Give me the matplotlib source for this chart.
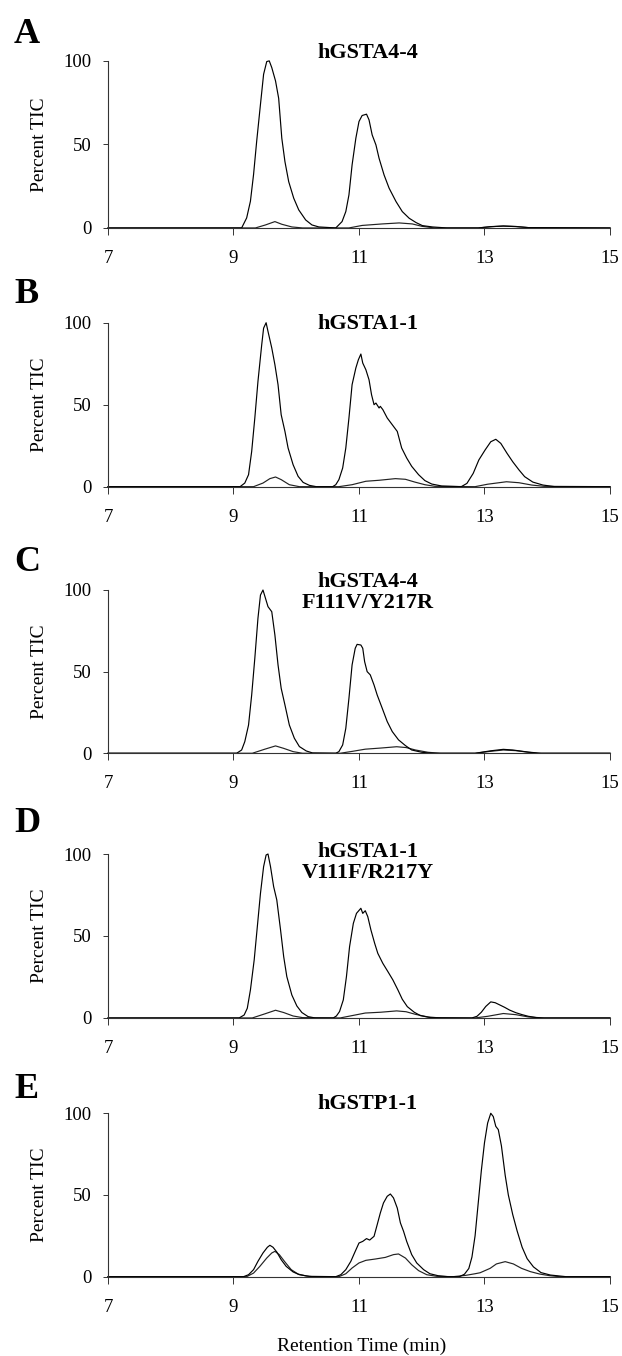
import matplotlib
matplotlib.use("Agg")
from matplotlib import pyplot as plt

plt.rcParams['font.family'] = ['Liberation Serif', 'DejaVu Serif']

letters = ["A", "B", "C", "D", "E"]
titles = [["hGSTA4-4"], ["hGSTA1-1"], ["hGSTA4-4", "F111V/Y217R"],
          ["hGSTA1-1", "V111F/R217Y"], ["hGSTP1-1"]]
xticks = [7, 9, 11, 13, 15]
yticks = [0, 50, 100]

# retention time (min) / percent TIC
a_main_t = [7, 9.13, 9.21, 9.27, 9.32, 9.37, 9.43, 9.48, 9.53, 9.57, 9.61, 9.67, 9.72, 9.77, 9.82,
            9.88, 9.96, 10.04, 10.15, 10.25, 10.36, 10.63, 10.73, 10.79, 10.84, 10.89, 10.95,
            11.0, 11.05, 11.12, 11.16, 11.21, 11.27, 11.32, 11.40, 11.48, 11.59, 11.69, 11.80,
            11.91, 12.01, 12.17, 12.4, 12.9, 13.1, 13.3, 13.5, 13.7, 15]
a_main_v = [0, 0, 6, 16, 32, 52, 74, 92, 99.6, 100, 96, 88, 77.6, 53.7, 39.7,
            27.7, 17.8, 10.8, 4.8, 1.8, 0.6, 0, 3.8, 9.8, 19.8, 37.7, 53.7,
            63.7, 67.3, 68.1, 64.7, 55.7, 49.7, 41.7, 31.7, 23.8, 15.8, 9.8, 5.8,
            3.2, 1.4, 0.6, 0, 0, 0.8, 1.1, 0.8, 0.2, 0]
a_minor_t = [7, 9.35, 9.51, 9.66, 9.77, 9.93, 10.1, 10.84, 11.05, 11.37, 11.64, 11.85, 12.0,
             12.2, 12.9, 13.1, 13.3, 13.5, 13.7, 15]
a_minor_v = [0, 0, 1.8, 3.8, 2.2, 0.6, 0, 0, 1.5, 2.4, 3.0, 2.4, 1.0,
             0, 0, 0.7, 1.2, 0.9, 0.2, 0]

b_main_t = [7, 9.105, 9.18, 9.24, 9.29, 9.34, 9.39, 9.45, 9.48, 9.52, 9.55, 9.61, 9.66, 9.71,
            9.76, 9.82, 9.87, 9.95, 10.03, 10.11, 10.21, 10.32, 10.58, 10.63, 10.68, 10.74,
            10.79, 10.84, 10.89, 10.95, 10.99, 11.03, 11.06, 11.11, 11.16, 11.20, 11.24, 11.27,
            11.32, 11.34, 11.38, 11.45, 11.53, 11.61, 11.68, 11.76, 11.84, 11.95, 12.05, 12.16,
            12.32, 12.63, 12.72, 12.82, 12.91, 13.01, 13.10, 13.18, 13.26, 13.36, 13.45, 13.55,
            13.64, 13.77, 13.93, 14.12, 15]
b_main_v = [0, 0, 2.2, 7.3, 21.5, 41.9, 64.2, 86.6, 96.7, 100, 94.7, 84.6, 74.4, 62.2,
            43.9, 33.7, 23.6, 13.4, 6.3, 2.6, 0.8, 0, 0, 1.2, 4.3, 11.4,
            23.6, 41.9, 62.2, 72.4, 77.4, 80.9, 75.4, 71.3, 65.2, 56.1, 50.0, 51.0,
            48.0, 49.0, 47.0, 41.9, 37.8, 33.7, 23.6, 17.5, 12.4, 7.3, 3.7, 1.6,
            0.4, 0, 2, 8.1, 16.3, 22.4, 27.4, 28.9, 26.4, 20.3, 15.2, 10.2,
            6.1, 2.8, 1.0, 0, 0]
b_minor_t = [7, 9.32, 9.47, 9.58, 9.67, 9.76, 9.89, 10.05, 10.68, 10.89, 11.11, 11.32, 11.58,
             11.74, 11.89, 12.05, 12.21, 12.85, 13.05, 13.35, 13.55, 13.75, 13.95, 15]
b_minor_v = [0, 0, 2.2, 4.9, 5.9, 4.3, 1.2, 0, 0, 1.2, 3.3, 3.9, 4.9,
             4.5, 2.8, 1.2, 0.2, 0, 1.5, 3.0, 2.4, 1.0, 0.2, 0]

c_main_t = [7, 9.05, 9.13, 9.18, 9.24, 9.29, 9.34, 9.39, 9.43, 9.47, 9.51, 9.55, 9.61, 9.66,
            9.71, 9.76, 9.82, 9.89, 9.97, 10.05, 10.16, 10.26, 10.63, 10.68, 10.74, 10.79,
            10.84, 10.89, 10.94, 10.97, 11.03, 11.06, 11.09, 11.13, 11.18, 11.24, 11.29, 11.37,
            11.45, 11.53, 11.63, 11.74, 11.84, 12.0, 12.16, 12.85, 13.1, 13.3, 13.45, 13.7,
            13.9, 15]
c_main_v = [0, 0, 2, 7.1, 17.3, 35.7, 58.2, 82.7, 96.9, 100, 94.9, 89.8, 86.7, 72.4,
            54.1, 39.8, 29.6, 17.3, 9.2, 4.1, 1.4, 0.2, 0, 1, 5.1, 15.3,
            33.7, 54.1, 64.3, 66.7, 66.3, 64.3, 56.1, 50, 48, 41.8, 35.7, 27.6,
            19.4, 13.3, 8.2, 4.7, 2, 0.6, 0, 0, 1.5, 2.4, 2.0, 0.7,
            0, 0]
c_minor_t = [7, 9.3, 9.5, 9.67, 9.8, 9.95, 10.1, 10.7, 10.9, 11.1, 11.35, 11.6, 11.75, 11.9,
             12.1, 12.3, 12.85, 13.1, 13.3, 13.5, 13.7, 13.85, 15]
c_minor_v = [0, 0, 2.5, 4.5, 3.0, 1.0, 0, 0, 1.2, 2.5, 3.2, 4.0, 3.5, 2.0,
             0.6, 0, 0, 1.2, 2.0, 1.6, 0.6, 0, 0]

d_main_t = [7, 9.09, 9.17, 9.22, 9.27, 9.33, 9.38, 9.43, 9.48, 9.52, 9.55, 9.59, 9.64, 9.69,
            9.75, 9.80, 9.85, 9.93, 10.01, 10.09, 10.19, 10.30, 10.59, 10.64, 10.69, 10.75,
            10.80, 10.85, 10.91, 10.96, 11.03, 11.06, 11.10, 11.14, 11.19, 11.25, 11.30, 11.38,
            11.46, 11.54, 11.62, 11.69, 11.77, 11.88, 11.98, 12.14, 12.8, 12.88, 12.95, 13.02,
            13.1, 13.17, 13.24, 13.32, 13.4, 13.5, 13.6, 13.7, 13.82, 13.95, 15]
d_main_v = [0, 0, 1.8, 5.9, 17.1, 35.4, 55.7, 76, 92.3, 99.4, 100, 92.3, 80.1, 72,
            53.7, 37.4, 25.2, 14, 7.3, 3.3, 0.8, 0, 0, 1.2, 3.9, 11,
            25.2, 43.5, 57.7, 63.8, 66.9, 63.8, 65.4, 61.8, 53.7, 45.5, 39.4, 33.3,
            28.3, 23.2, 17.1, 11.4, 6.9, 3.5, 1.4, 0.2, 0, 1, 3.5, 7,
            9.8, 9.3, 8, 6.5, 4.8, 3.2, 2, 1, 0.3, 0, 0]
d_minor_t = [7, 9.3, 9.5, 9.67, 9.8, 9.95, 10.1, 10.7, 10.9, 11.1, 11.35, 11.6, 11.75, 11.9,
             12.1, 12.3, 12.85, 13.05, 13.3, 13.5, 13.7, 13.9, 15]
d_minor_v = [0, 0, 2.5, 4.7, 3.3, 1.2, 0.2, 0, 1.5, 3.0, 3.5, 4.3, 3.8, 2.2,
             0.6, 0, 0, 1.0, 2.7, 2.0, 0.6, 0, 0]

e_main_t = [7, 9.16, 9.24, 9.32, 9.39, 9.47, 9.54, 9.58, 9.63, 9.69, 9.76, 9.84, 9.95, 10.05,
            10.21, 10.63, 10.71, 10.79, 10.87, 10.94, 11.0, 11.06, 11.12, 11.17, 11.24, 11.29,
            11.34, 11.39, 11.45, 11.50, 11.55, 11.61, 11.66, 11.71, 11.76, 11.84, 11.92, 12.03,
            12.13, 12.26, 12.42, 12.6, 12.68, 12.75, 12.8, 12.85, 12.9, 12.95, 13.0, 13.05,
            13.1, 13.14, 13.18, 13.22, 13.27, 13.33, 13.38, 13.45, 13.52, 13.6, 13.68, 13.78,
            13.9, 14.05, 14.3, 15]
e_main_v = [0, 0, 1.2, 4.3, 9.4, 14.5, 18, 19.2, 18, 15.1, 10.4, 6.3, 2.9, 1.2,
            0.2, 0, 1.2, 4.3, 9.4, 15.5, 20.6, 21.6, 23.3, 22.4, 24.7, 31.8,
            39, 45.1, 49.2, 50.6, 48.2, 42, 32.9, 27.8, 21.6, 13.5, 8.4, 4.3,
            1.8, 0.6, 0, 0, 1.5, 5, 12, 25, 45, 65, 82, 94,
            100, 98, 92, 90, 80, 62, 50, 38, 28, 18, 11, 6,
            2.5, 1, 0, 0]
e_minor_t = [7, 9.21, 9.32, 9.42, 9.53, 9.61, 9.66, 9.73, 9.82, 9.92, 10.03, 10.16, 10.26,
             10.68, 10.79, 10.89, 11.0, 11.11, 11.26, 11.42, 11.55, 11.63, 11.74, 11.84, 11.95,
             12.08, 12.24, 12.5, 12.7, 12.85, 12.93, 13.09, 13.19, 13.33, 13.46, 13.59, 13.73,
             13.88, 14.04, 14.2, 15]
e_minor_v = [0, 0, 2.2, 6.3, 11.4, 14.5, 15.5, 13.5, 9, 4.3, 1.6, 0.4, 0,
             0, 1.8, 5.3, 8.4, 10, 10.8, 11.8, 13.5, 13.9, 11.4, 7.3, 3.7,
             1.2, 0.2, 0, 0.8, 1.8, 2.4, 5.1, 7.8, 9.2, 7.8, 5.1, 3.1,
             1.6, 0.6, 0, 0]

traces = [(a_main_t, a_main_v, a_minor_t, a_minor_v),
          (b_main_t, b_main_v, b_minor_t, b_minor_v),
          (c_main_t, c_main_v, c_minor_t, c_minor_v),
          (d_main_t, d_main_v, d_minor_t, d_minor_v),
          (e_main_t, e_main_v, e_minor_t, e_minor_v)]

# layout (figure fractions)
rects = [[0.1736, 0.8319, 0.8071, 0.1232],
         [0.1736, 0.6411, 0.8071, 0.1209],
         [0.1736, 0.4445, 0.8071, 0.1204],
         [0.1736, 0.2493, 0.8071, 0.1209],
         [0.1736, 0.0585, 0.8071, 0.1205]]
letter_y = [43, 303, 571, 832, 1098]          # pixel baselines from top
title_y = [[1.015], [0.962], [1.02, 0.89], [0.982, 0.854], [1.026]]

H = 1356.0
fig = plt.figure(figsize=(6.22, 13.56), dpi=100)

for i in range(5):
    ax = fig.add_axes(rects[i])
    mt, mv, nt, nv = traces[i]
    ax.plot(nt, nv, color="#222222", lw=0.85, clip_on=False)
    ax.plot(mt, mv, color="black", lw=0.85, clip_on=False)
    ax.set_xlim(7, 15)
    ax.set_ylim(0, 100)
    ax.set_xticks(xticks)
    ax.set_yticks(yticks)
    for s in ["top", "right"]:
        ax.spines[s].set_visible(False)
    for s in ["left", "bottom"]:
        ax.spines[s].set_linewidth(0.8)
        ax.spines[s].set_color("#333333")
    ax.tick_params(axis="x", direction="out", length=5, width=0.7, pad=11,
                   labelsize=13.5, color="#333333")
    ax.tick_params(axis="y", direction="out", length=3.6, width=0.7, pad=8,
                   labelsize=13.5, color="#333333")
    ax.text(-0.1355, 0.5, "Percent TIC", transform=ax.transAxes, rotation=90,
            ha="center", va="center", fontsize=14)
    tr = ax.get_xaxis_transform()
    for line, yy in zip(titles[i], title_y[i]):
        ax.text(11.14, yy, line, transform=tr, ha="center", va="baseline",
                fontsize=16, fontweight="bold")
    fig.text(14 / 622.0, 1 - letter_y[i] / H, letters[i], ha="left", va="baseline",
             fontsize=26, fontweight="bold")

fig.text(362 / 622.0, 1 - 1351 / H, "Retention Time (min)", ha="center",
         va="baseline", fontsize=14)

fig.savefig("out.png", dpi=100)
